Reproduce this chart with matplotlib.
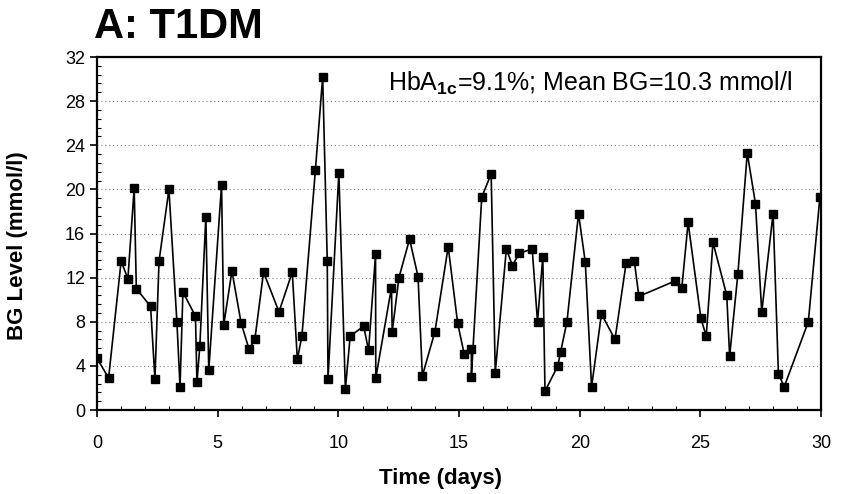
import numpy as np
import matplotlib.pyplot as plt
from matplotlib.ticker import MultipleLocator

plt.rcParams['font.family'] = ['Liberation Sans', 'DejaVu Sans']
plt.rcParams['mathtext.fontset'] = 'custom'
plt.rcParams['mathtext.rm'] = 'Liberation Sans'
plt.rcParams['mathtext.bf'] = 'Liberation Sans:bold'

# time (days) and blood glucose readings (mmol/l)
time_days = [0.00, 0.48, 1.00, 1.28, 1.54, 1.63, 2.22, 2.40, 2.57, 2.98,
             3.31, 3.44, 3.56, 4.08, 4.14, 4.26, 4.51, 4.63, 5.16, 5.25,
             5.59, 5.97, 6.30, 6.54, 6.90, 7.54, 8.09, 8.30, 8.49, 9.05,
             9.35, 9.54, 9.57, 10.02, 10.29, 10.49, 11.05, 11.25, 11.54, 11.55,
             12.20, 12.23, 12.51, 12.95, 13.30, 13.48, 14.00, 14.55, 14.94, 15.21,
             15.51, 15.51, 15.94, 16.33, 16.50, 16.96, 17.21, 17.49, 18.03, 18.25,
             18.47, 18.56, 19.09, 19.21, 19.47, 19.95, 20.23, 20.49, 20.90, 21.46,
             21.92, 22.26, 22.45, 23.95, 24.23, 24.49, 25.02, 25.24, 25.52, 26.09,
             26.21, 26.55, 26.94, 27.28, 27.54, 28.01, 28.23, 28.47, 29.47, 29.95]
bg_level = [4.7, 2.9, 13.5, 11.9, 20.1, 11.0, 9.4, 2.8, 13.5, 20.0,
            8.0, 2.1, 10.7, 8.5, 2.5, 5.8, 17.5, 3.6, 20.4, 7.7,
            12.6, 7.9, 5.5, 6.4, 12.5, 8.9, 12.5, 4.6, 6.7, 21.8,
            30.2, 13.5, 2.8, 21.5, 1.9, 6.7, 7.6, 5.4, 14.1, 2.9,
            11.1, 7.1, 12.0, 15.5, 12.1, 3.1, 7.1, 14.8, 7.9, 5.1,
            5.5, 3.0, 19.3, 21.4, 3.4, 14.6, 13.1, 14.2, 14.6, 8.0,
            13.9, 1.7, 4.0, 5.3, 8.0, 17.8, 13.4, 2.1, 8.7, 6.4,
            13.3, 13.5, 10.3, 11.7, 11.1, 17.0, 8.3, 6.7, 15.2, 10.4,
            4.9, 12.3, 23.3, 18.7, 8.9, 17.8, 3.3, 2.1, 8.0, 19.3]

fig = plt.figure(figsize=(8.42, 4.94), dpi=100)
ax = fig.add_axes([0.1152, 0.170, 0.860, 0.7146])

ax.plot(time_days, bg_level, color='black', lw=1.2, marker='s',
        markersize=5.5, markerfacecolor='black', markeredgecolor='black')

ax.set_xlim(0, 30)
ax.set_ylim(0, 32)
ax.xaxis.set_major_locator(MultipleLocator(5))
ax.xaxis.set_minor_locator(MultipleLocator(1))
ax.yaxis.set_major_locator(MultipleLocator(4))
ax.yaxis.set_minor_locator(MultipleLocator(0.8))
ax.tick_params(axis='both', which='major', direction='out', length=5,
               width=1.2, labelsize=13)
ax.tick_params(axis='x', which='major', pad=13)
ax.tick_params(axis='both', which='minor', direction='in', length=3, width=0.8)

ax.grid(axis='y', which='major', color='gray', linestyle=(0, (1, 2.5)), lw=0.8)
ax.set_axisbelow(True)
for s in ax.spines.values():
    s.set_linewidth(1.6)

ax.set_xlabel('Time (days)', fontsize=16, fontweight='bold')
ax.set_ylabel('BG Level (mmol/l)', fontsize=16, fontweight='bold')
ax.xaxis.set_label_coords(0.475, -0.164)
ax.yaxis.set_label_coords(-0.095, 0.467)

ax.text(0.96, 0.926, r'HbA$_{\mathbf{1c}}$=9.1%; Mean BG=10.3 mmol/l',
        transform=ax.transAxes, ha='right', va='center', fontsize=18)

fig.text(0.112, 0.945, 'A: T1DM', fontsize=30, fontweight='bold',
         ha='left', va='center')

fig.savefig('out.png', dpi=100)
